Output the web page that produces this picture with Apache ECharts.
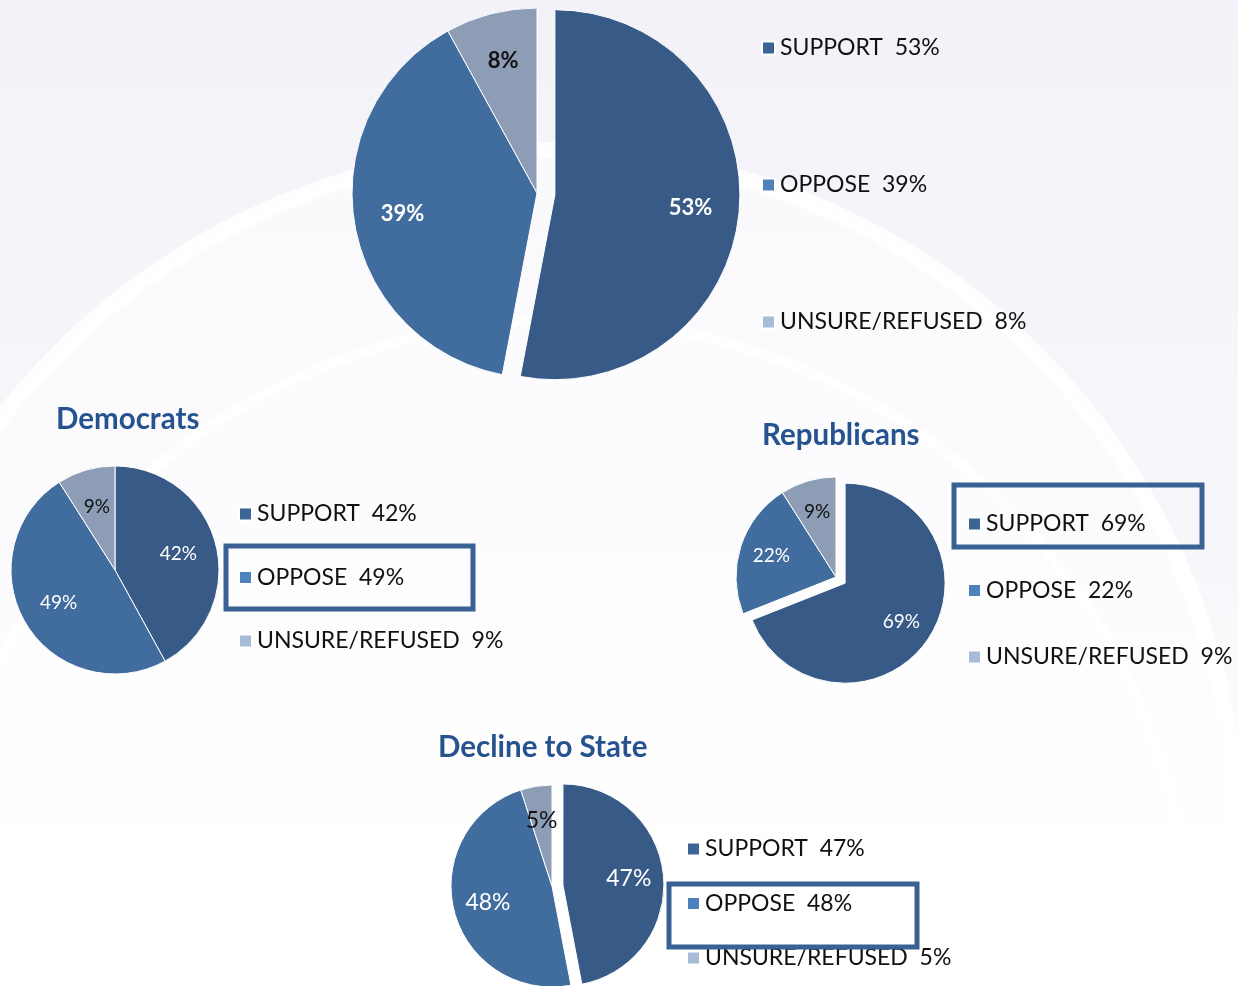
<!DOCTYPE html>
<html>
<head>
<meta charset="utf-8">
<title>Support / Oppose by party</title>
<script src="https://cdn.jsdelivr.net/npm/echarts@6/dist/echarts.min.js"></script>
<style>
  html, body { margin: 0; padding: 0; }
  #chart { width: 1238px; height: 986px; }
</style>
</head>
<body>
<div id="chart"></div>
<script>
// data
const categories = ['SUPPORT', 'OPPOSE', 'UNSURE/REFUSED'];
const overallValues = [53, 39, 8];
const democratValues = [42, 49, 9];
const republicanValues = [69, 22, 9];
const declineValues = [47, 48, 5];
const groupTitles = ['Democrats', 'Republicans', 'Decline to State'];

const sliceColors = ['#375a87', '#416c9e', '#8d9db6'];
const legendColors = ['#3c6596', '#4f81bd', '#a8bbd9'];
const fontFamily = 'Lato, "Open Sans", sans-serif';

// one pie = a filled series + a transparent copy that only carries the labels
// (so the labels sit further out than the default half radius)
function makePie(values, center, r, innerFrac, explodeIdx, offset, labelSize, bold) {
  const base = {
    type: 'pie',
    center: center,
    startAngle: 90,
    clockwise: true,
    selectedMode: 'single',
    selectedOffset: offset,
    animation: false,
    silent: true,
    emphasis: { disabled: true },
    labelLine: { show: false }
  };
  const filled = Object.assign({}, base, {
    radius: [0, r],
    label: { show: false },
    itemStyle: { borderColor: '#ffffff', borderWidth: 1 },
    data: values.map((v, i) => ({
      name: categories[i], value: v, selected: i === explodeIdx,
      itemStyle: { color: sliceColors[i] }
    }))
  });
  const labels = Object.assign({}, base, {
    radius: [r * innerFrac, r],
    z: 3,
    itemStyle: { color: 'rgba(0,0,0,0)', borderWidth: 0 },
    label: {
      show: true,
      position: 'inside',
      formatter: '{c}%',
      fontFamily: fontFamily,
      fontSize: labelSize,
      fontWeight: bold ? 'bold' : 'normal'
    },
    data: values.map((v, i) => ({
      name: categories[i], value: v, selected: i === explodeIdx,
      label: { color: i === 2 ? '#111111' : '#ffffff' }
    }))
  });
  return [filled, labels];
}

function makeLegend(values, left, top, gap) {
  return {
    orient: 'vertical',
    left: left,
    top: top,
    padding: 0,
    itemWidth: 13,
    itemHeight: 13,
    itemGap: gap,
    selectedMode: false,
    icon: 'rect',
    textStyle: {
      fontFamily: fontFamily, fontSize: 23, color: '#111111', lineHeight: 24
    },
    data: categories.map((c, i) => ({ name: c, itemStyle: { color: legendColors[i] } })),
    formatter: name => name + '  ' + values[categories.indexOf(name)] + '%'
  };
}

function makeTitle(text, left, top) {
  return {
    text: text, left: left, top: top, padding: 0,
    textStyle: { fontFamily: fontFamily, fontSize: 29.5, fontWeight: 'bold', color: '#26538f' }
  };
}

function box(x1, y1, x2, y2) {
  return {
    type: 'rect', z: 5,
    shape: { x: x1, y: y1, width: x2 - x1, height: y2 - y1 },
    style: { fill: null, stroke: '#3a6194', lineWidth: 5 }
  };
}

let myChart = echarts.init(document.getElementById('chart'));
myChart.setOption({
  backgroundColor: {
    type: 'linear', x: 0, y: 0, x2: 0, y2: 1,
    colorStops: [
      { offset: 0, color: '#f2f2f8' },
      { offset: 0.55, color: '#f7f7fb' },
      { offset: 0.8, color: '#fdfdfe' },
      { offset: 1, color: '#ffffff' }
    ]
  },
  title: [
    makeTitle(groupTitles[0], 56, 404),
    makeTitle(groupTitles[1], 762, 420),
    makeTitle(groupTitles[2], 438, 732)
  ],
  legend: [
    makeLegend(overallValues, 761, 36, 113),
    makeLegend(democratValues, 238, 502, 39.5),
    makeLegend(republicanValues, 967, 512, 42.5),
    makeLegend(declineValues, 686, 837, 30.5)
  ],
  graphic: [
    // background swooshes
    { type: 'circle', z: -10, silent: true,
      shape: { cx: 547, cy: 840, r: 690 },
      style: { fill: 'rgba(255,255,255,0.55)', stroke: 'rgba(255,255,255,0.9)', lineWidth: 16 } },
    { type: 'circle', z: -9, silent: true,
      shape: { cx: 560, cy: 950, r: 630 },
      style: { fill: 'rgba(255,255,255,0.4)', stroke: 'rgba(255,255,255,0.8)', lineWidth: 10 } },
    // highlight boxes
    box(226, 546, 473, 609),
    box(954, 485, 1202, 547),
    box(669, 884, 917, 947)
  ],
  series: [].concat(
    makePie(overallValues, [537, 193], 185, 0.44, 0, 18, 22, true),
    makePie(democratValues, [115, 570], 104, 0.2, -1, 0, 19, false),
    makePie(republicanValues, [836, 577], 100, 0.3, 0, 11, 19, false),
    makePie(declineValues, [552, 886], 101, 0.25, 0, 11, 23, false)
  )
});
</script>
</body>
</html>
